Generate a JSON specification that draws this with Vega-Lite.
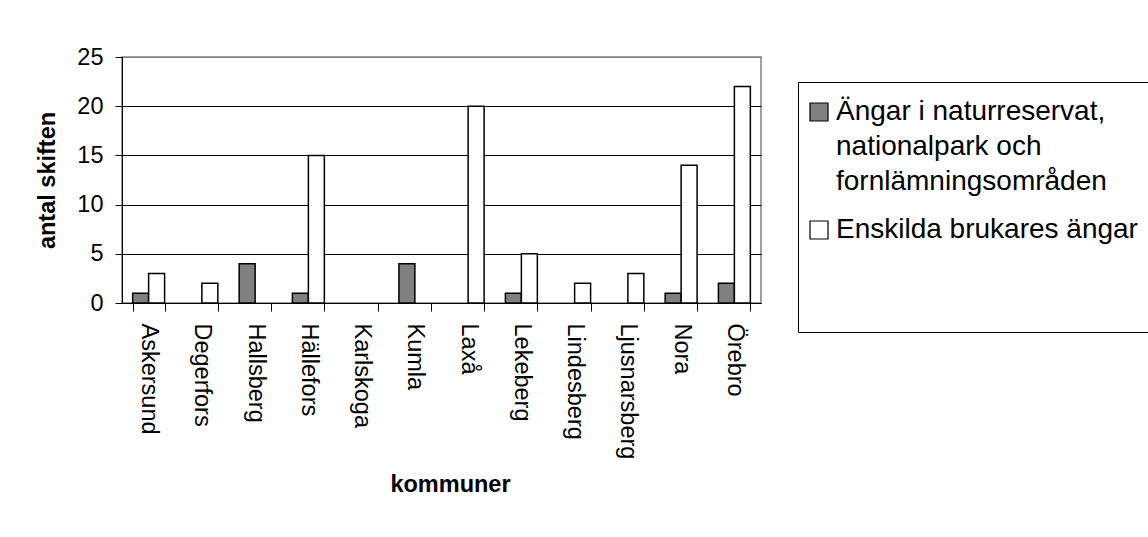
{
  "$schema": "https://vega.github.io/schema/vega-lite/v6.json",
  "width": 639,
  "height": 246,
  "autosize": {"type": "none"},
  "padding": {"left": 122, "top": 57, "right": 387, "bottom": 234},
  "background": "white",
  "config": {
    "font": "Liberation Sans",
    "view": {"stroke": "#808080", "strokeWidth": 1.5}
  },
  "data": {
    "values": [
      {"kommun": "Askersund", "kategori": "Ängar i naturreservat, nationalpark och fornlämningsområden", "antal": 1},
      {"kommun": "Askersund", "kategori": "Enskilda brukares ängar", "antal": 3},
      {"kommun": "Degerfors", "kategori": "Ängar i naturreservat, nationalpark och fornlämningsområden", "antal": 0},
      {"kommun": "Degerfors", "kategori": "Enskilda brukares ängar", "antal": 2},
      {"kommun": "Hallsberg", "kategori": "Ängar i naturreservat, nationalpark och fornlämningsområden", "antal": 4},
      {"kommun": "Hallsberg", "kategori": "Enskilda brukares ängar", "antal": 0},
      {"kommun": "Hällefors", "kategori": "Ängar i naturreservat, nationalpark och fornlämningsområden", "antal": 1},
      {"kommun": "Hällefors", "kategori": "Enskilda brukares ängar", "antal": 15},
      {"kommun": "Karlskoga", "kategori": "Ängar i naturreservat, nationalpark och fornlämningsområden", "antal": 0},
      {"kommun": "Karlskoga", "kategori": "Enskilda brukares ängar", "antal": 0},
      {"kommun": "Kumla", "kategori": "Ängar i naturreservat, nationalpark och fornlämningsområden", "antal": 4},
      {"kommun": "Kumla", "kategori": "Enskilda brukares ängar", "antal": 0},
      {"kommun": "Laxå", "kategori": "Ängar i naturreservat, nationalpark och fornlämningsområden", "antal": 0},
      {"kommun": "Laxå", "kategori": "Enskilda brukares ängar", "antal": 20},
      {"kommun": "Lekeberg", "kategori": "Ängar i naturreservat, nationalpark och fornlämningsområden", "antal": 1},
      {"kommun": "Lekeberg", "kategori": "Enskilda brukares ängar", "antal": 5},
      {"kommun": "Lindesberg", "kategori": "Ängar i naturreservat, nationalpark och fornlämningsområden", "antal": 0},
      {"kommun": "Lindesberg", "kategori": "Enskilda brukares ängar", "antal": 2},
      {"kommun": "Ljusnarsberg", "kategori": "Ängar i naturreservat, nationalpark och fornlämningsområden", "antal": 0},
      {"kommun": "Ljusnarsberg", "kategori": "Enskilda brukares ängar", "antal": 3},
      {"kommun": "Nora", "kategori": "Ängar i naturreservat, nationalpark och fornlämningsområden", "antal": 1},
      {"kommun": "Nora", "kategori": "Enskilda brukares ängar", "antal": 14},
      {"kommun": "Örebro", "kategori": "Ängar i naturreservat, nationalpark och fornlämningsområden", "antal": 2},
      {"kommun": "Örebro", "kategori": "Enskilda brukares ängar", "antal": 22}
    ]
  },
  "transform": [{"filter": "datum.antal > 0"}],
  "mark": {"type": "bar", "stroke": "black", "strokeWidth": 1.5},
  "encoding": {
    "x": {
      "field": "kommun",
      "type": "nominal",
      "sort": null,
      "scale": {
        "domain": ["Askersund", "Degerfors", "Hallsberg", "Hällefors", "Karlskoga", "Kumla", "Laxå", "Lekeberg", "Lindesberg", "Ljusnarsberg", "Nora", "Örebro"],
        "paddingInner": 0.4,
        "paddingOuter": 0.2
      },
      "axis": {
        "title": "kommuner",
        "titleFontSize": 23.5,
        "titleFontWeight": "bold",
        "titleColor": "black",
        "titlePadding": 14,
        "titleX": 328,
        "labelAngle": 90,
        "labelAlign": "left",
        "labelBaseline": "middle",
        "labelFontSize": 23.5,
        "labelColor": "black",
        "labelPadding": 12,
        "labelLimit": 0,
        "tickBand": "extent",
        "tickSize": 8,
        "tickColor": "black",
        "domainColor": "black",
        "grid": false
      }
    },
    "xOffset": {
      "field": "kategori",
      "type": "nominal",
      "scale": {"domain": ["Ängar i naturreservat, nationalpark och fornlämningsområden", "Enskilda brukares ängar"]}
    },
    "y": {
      "field": "antal",
      "type": "quantitative",
      "scale": {"domain": [0, 25], "nice": false},
      "axis": {
        "title": "antal skiften",
        "titleFontSize": 23.5,
        "titleFontWeight": "bold",
        "titleColor": "black",
        "titlePadding": 17,
        "values": [0, 5, 10, 15, 20, 25],
        "labelFontSize": 23.5,
        "labelColor": "black",
        "labelPadding": 12,
        "tickSize": 7,
        "tickColor": "black",
        "domainColor": "black",
        "grid": true,
        "gridColor": {"condition": {"test": "datum.value === 25", "value": "#808080"}, "value": "black"},
        "gridOpacity": 1
      }
    },
    "color": {
      "field": "kategori",
      "type": "nominal",
      "scale": {
        "domain": ["Ängar i naturreservat, nationalpark och fornlämningsområden", "Enskilda brukares ängar", " "],
        "range": ["#808080", "#ffffff", "transparent"]
      },
      "legend": {
        "title": null,
        "orient": "none",
        "legendX": 676,
        "legendY": 25,
        "strokeColor": "black",
        "fillColor": "white",
        "padding": 16,
        "symbolType": "square",
        "symbolSize": 324,
        "symbolStrokeWidth": 1.2,
        "symbolStrokeColor": {"expr": "datum.value === ' ' ? 'transparent' : 'black'"},
        "symbolOffset": -9,
        "labelOffset": 3,
        "labelFontSize": {"expr": "datum.value === ' ' ? 7 : 28"},
        "labelColor": "black",
        "labelLimit": 0,
        "rowPadding": 20,
        "labelExpr": "indexof(datum.label, 'Ängar i') === 0 ? ['Ängar i naturreservat,', 'nationalpark och', 'fornlämningsområden'] : (datum.label === ' ' ? [' ', ' '] : datum.label)",
        "encode": {
          "labels": {"update": {"lineHeight": {"value": 35}}}
        }
      }
    }
  }
}
